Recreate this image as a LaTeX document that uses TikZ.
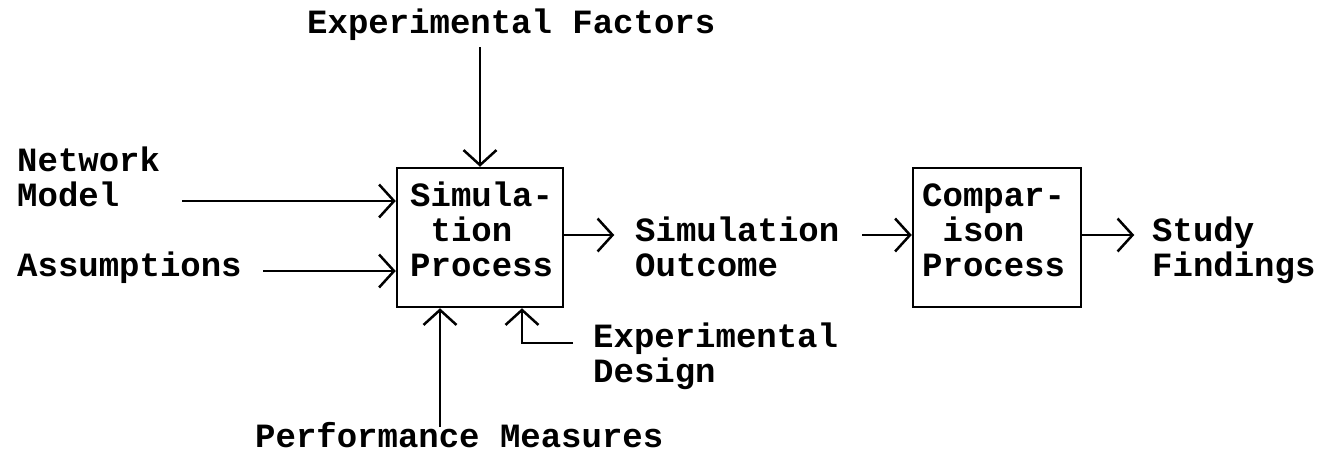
\documentclass[tikz,border=0pt]{standalone}
\usepackage{fontspec}
\setmainfont{Liberation Mono}
\usetikzlibrary{arrows.meta}
\begin{document}
\begin{tikzpicture}[x=1pt,y=-1pt,
  every node/.style={font=\bfseries\fontsize{34}{35}\selectfont, inner sep=0pt},
  lbl/.style={anchor=base west, align=left},
  procbox/.style={draw, line width=2.5pt, minimum height=139pt},
  arr/.style={line width=2.5pt, -{Straight Barb[length=15pt,width=33pt,line width=2.5pt]}}]
\useasboundingbox (0,0) rectangle (1325,459);
% boxes
\node[procbox, minimum width=166pt] (sp) at (480,237.5) {};
\node[procbox, minimum width=168pt] (cp) at (997,237.5) {};
\node[lbl] (spt) at (410,276) {Simula-\\\phantom{S}tion\\Process};
\node[lbl] (cpt) at (922,276) {Compar-\\\phantom{C}ison\\Process};
% labels
\node[lbl] (ef) at (307,33) {Experimental Factors};
\node[lbl] (nm) at (17,206) {Network\\Model};
\node[lbl] (as) at (17,276) {Assumptions};
\node[lbl] (so) at (635,276) {Simulation\\Outcome};
\node[lbl] (ed) at (593,382) {Experimental\\Design};
\node[lbl] (sf) at (1152,276) {Study\\Findings};
\node[lbl] (pm) at (255,447) {Performance Measures};
% free ends
\coordinate (efend) at (480,47);
\coordinate (nmend) at (182,201);
\coordinate (asend) at (263,271);
\coordinate (pmend) at (440,427);
\coordinate (edend) at (573,343);
\coordinate (soend) at (862,235);
% connectors
\draw[arr] (efend) -- (efend |- sp.north);
\draw[arr] (nmend) -- (nmend -| sp.west);
\draw[arr] (asend) -- (asend -| sp.west);
\draw[arr] (pmend) -- (pmend |- sp.south);
\draw[arr] (edend) -| ([xshift=42pt]sp.south);
\draw[arr] (sp.east |- soend) -- ++(50,0);
\draw[arr] (soend) -- (soend -| cp.west);
\draw[arr] (cp.east |- soend) -- ++(52,0);
\end{tikzpicture}
\end{document}
